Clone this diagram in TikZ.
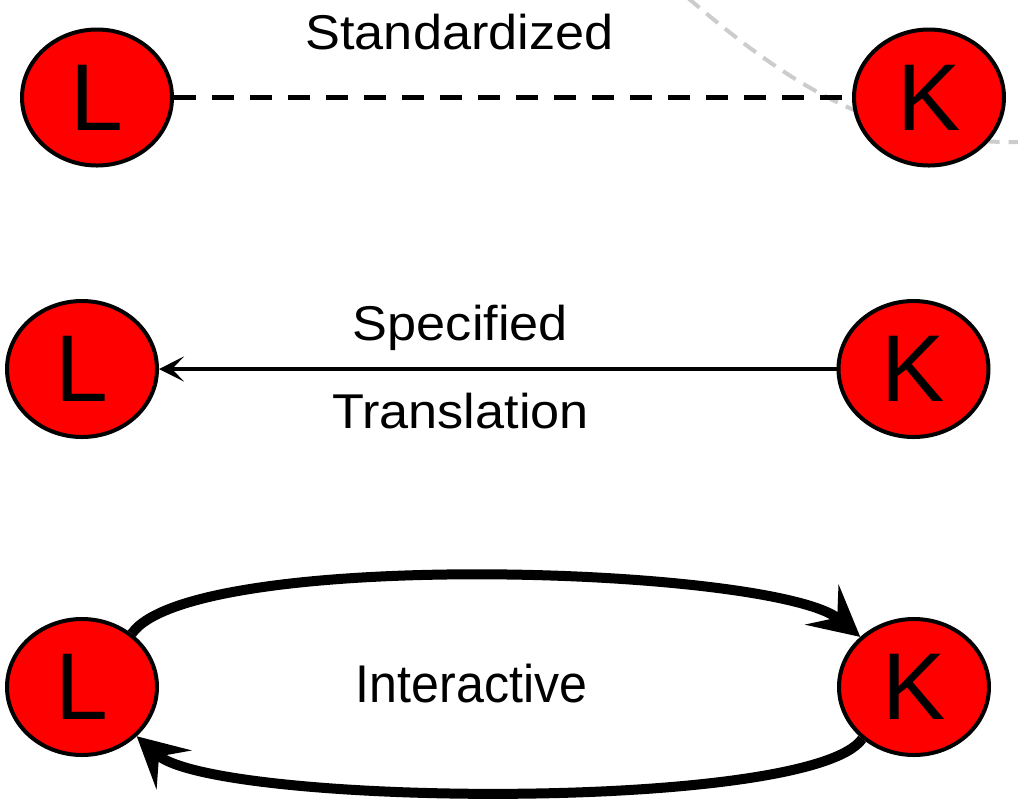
\documentclass[tikz,border=0pt]{standalone}
\usepackage{fontspec}
\setmainfont{Liberation Sans}
\newfontfamily\labelfont[FakeStretch=1.07]{Liberation Sans}
\newfontfamily\innerlabelfont[FakeStretch=0.945]{Liberation Sans}
\usetikzlibrary{shapes.geometric,arrows.meta}

\begin{document}
\begin{tikzpicture}[
  state/.style={ellipse, draw=black, fill=red, line width=0.04cm,
    minimum width=1.5cm, minimum height=1.36cm, inner sep=0pt,
    font=\fontsize{27pt}{30pt}\selectfont},
  lbl/.style={anchor=base, inner sep=0pt,
    font=\labelfont\fontsize{13.9pt}{16pt}\selectfont},
  innerlbl/.style={anchor=base, inner sep=0pt,
    font=\innerlabelfont\fontsize{15.1pt}{18pt}\selectfont},
  stdline/.style={line width=0.045cm, dash pattern=on 0.22cm off 0.16cm},
  spcline/.style={line width=0.04cm,
    -{Stealth[length=0.25cm, width=0.25cm, inset=0.12cm]}},
  intline/.style={line width=0.1cm,
    -{Stealth[length=0.5cm, width=0.52cm, inset=0.2cm]}},
  backarc/.style={draw={rgb,255:red,204;green,204;blue,204}, line width=0.04cm,
    dash pattern=on 0.15cm off 0.09cm}
]
\useasboundingbox (0,0) rectangle (10.18,-8.07);

% faint dashed arc in the background
\coordinate (arcA) at (6.88,0.02);
\coordinate (arcB) at (10.25,-1.42);
\draw[backarc] (arcA) .. controls (7.90,-0.85) and (8.80,-1.45) .. (arcB);

% standardized
\node[state] (L1) at (0.97,-0.975) {L};
\node[state] (K1) at (9.29,-0.975) {K};
\draw[stdline] (L1) -- (K1);
\node[lbl] (t1) at (4.595,-0.49) {Standardized};

% specified translation
\node[state] (L2) at (0.82,-3.69) {L};
\node[state] (K2) at (9.135,-3.69) {K};
\draw[spcline] (K2) -- (L2);
\node[lbl] (t2) at (4.605,-3.40) {Specified};
\node[lbl] (t3) at (4.605,-4.28) {Translation};

% interactive
\node[state] (L3) at (0.82,-6.87) {L};
\node[state] (K3) at (9.14,-6.87) {K};
\draw[intline] (L3.47) .. controls +(55:1.05) and +(140:1.1) .. (K3.137);
\draw[intline] (K3.225) .. controls +(-125:0.9) and +(-42:1.05) .. (L3.318);
\node[innerlbl] (t4) at (4.715,-7.02) {Interactive};
\end{tikzpicture}
\end{document}
